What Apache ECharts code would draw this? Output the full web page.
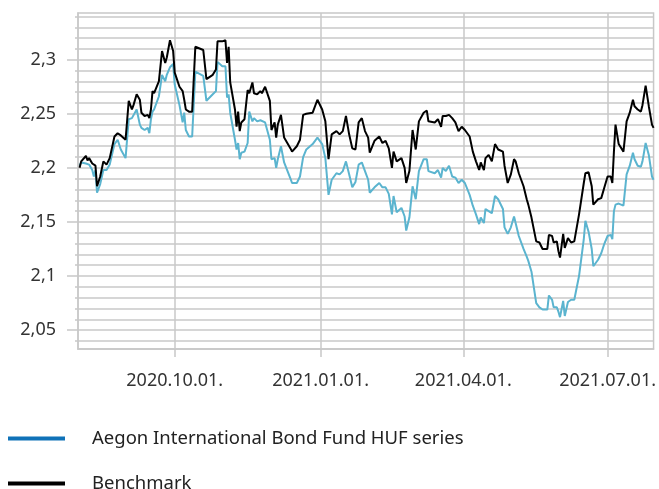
<!DOCTYPE html>
<html>
<head>
<meta charset="utf-8">
<script src="https://cdn.jsdelivr.net/npm/echarts@6/dist/echarts.min.js"></script>
<style>
  html, body { margin: 0; padding: 0; background: #fff; }
  #chart { width: 659px; height: 489px; }
</style>
</head>
<body>
<div id="chart"></div>
<script>
const dates = [
  '2020-08-02','2020-08-03','2020-08-06','2020-08-07','2020-08-08','2020-08-10','2020-08-11','2020-08-12','2020-08-13','2020-08-15','2020-08-17','2020-08-19','2020-08-21','2020-08-24','2020-08-26','2020-08-28','2020-08-31',
  '2020-09-02','2020-09-04','2020-09-05','2020-09-07','2020-09-09','2020-09-10','2020-09-12','2020-09-14','2020-09-15','2020-09-16','2020-09-17','2020-09-18','2020-09-21','2020-09-23','2020-09-25','2020-09-26','2020-09-28','2020-09-30',
  '2020-10-01','2020-10-04','2020-10-06','2020-10-07','2020-10-08','2020-10-10','2020-10-12','2020-10-14','2020-10-19','2020-10-21','2020-10-25','2020-10-27','2020-10-28','2020-10-31',
  '2020-11-02','2020-11-03','2020-11-04','2020-11-05','2020-11-08','2020-11-09','2020-11-10','2020-11-11','2020-11-12','2020-11-14','2020-11-16','2020-11-17','2020-11-19','2020-11-20','2020-11-22','2020-11-24','2020-11-25','2020-11-27','2020-11-30',
  '2020-12-01','2020-12-03','2020-12-04','2020-12-05','2020-12-07','2020-12-09','2020-12-13','2020-12-14','2020-12-17','2020-12-19','2020-12-21','2020-12-23','2020-12-27','2020-12-30',
  '2021-01-02','2021-01-04','2021-01-06','2021-01-08','2021-01-11','2021-01-13','2021-01-15','2021-01-17','2021-01-19','2021-01-21','2021-01-23','2021-01-25','2021-01-27','2021-01-29','2021-01-31',
  '2021-02-01','2021-02-04','2021-02-07','2021-02-09','2021-02-11','2021-02-13','2021-02-15','2021-02-16','2021-02-18','2021-02-21','2021-02-23','2021-02-24','2021-02-26','2021-02-28',
  '2021-03-02','2021-03-04','2021-03-07','2021-03-09','2021-03-10','2021-03-14','2021-03-16','2021-03-18','2021-03-19','2021-03-21','2021-03-23','2021-03-25','2021-03-27','2021-03-29','2021-03-31',
  '2021-04-02','2021-04-05','2021-04-07','2021-04-09','2021-04-11','2021-04-12','2021-04-14','2021-04-15','2021-04-17','2021-04-19','2021-04-21','2021-04-23','2021-04-26','2021-04-27','2021-04-29',
  '2021-05-01','2021-05-03','2021-05-04','2021-05-06','2021-05-09','2021-05-11','2021-05-12','2021-05-14','2021-05-17','2021-05-19','2021-05-21','2021-05-24','2021-05-25','2021-05-27','2021-05-28','2021-05-30','2021-05-31',
  '2021-06-01','2021-06-03','2021-06-04','2021-06-06','2021-06-08','2021-06-10','2021-06-13','2021-06-14','2021-06-16','2021-06-17','2021-06-19','2021-06-21','2021-06-22','2021-06-25','2021-06-27','2021-06-29',
  '2021-07-01','2021-07-03','2021-07-04','2021-07-05','2021-07-06','2021-07-08','2021-07-11','2021-07-13','2021-07-15','2021-07-17','2021-07-18','2021-07-20','2021-07-22','2021-07-23','2021-07-25','2021-07-27','2021-07-29','2021-07-30'
];

// Aegon International Bond Fund HUF series
const fund = [
  2.202,2.205,2.204,2.203,2.203,2.198,2.192,2.198,2.177,2.185,2.198,2.198,2.203,2.222,2.226,2.217,2.209,
  2.245,2.246,2.245,2.254,2.240,2.237,2.235,2.237,2.232,2.245,2.252,2.254,2.266,2.286,2.280,2.286,2.293,2.296,
  2.277,2.258,2.242,2.251,2.235,2.229,2.229,2.289,2.285,2.262,2.268,2.271,2.298,2.294,
  2.294,2.265,2.268,2.251,2.226,2.217,2.223,2.208,2.214,2.215,2.223,2.252,2.243,2.246,2.243,2.244,2.245,2.242,2.226,
  2.208,2.209,2.200,2.208,2.220,2.205,2.190,2.186,2.186,2.192,2.210,2.217,2.222,2.228,
  2.222,2.209,2.175,2.189,2.195,2.194,2.197,2.206,2.194,2.182,2.187,2.203,2.205,2.197,2.189,
  2.177,2.182,2.186,2.182,2.182,2.176,2.157,2.174,2.159,2.163,2.155,2.142,2.154,2.183,
  2.171,2.197,2.208,2.208,2.197,2.195,2.198,2.191,2.200,2.197,2.202,2.192,2.191,2.186,2.189,
  2.186,2.175,2.165,2.157,2.148,2.154,2.149,2.162,2.160,2.158,2.174,2.171,2.162,2.145,2.139,
  2.145,2.155,2.154,2.137,2.125,2.118,2.114,2.104,2.075,2.071,2.069,2.069,2.082,2.078,2.071,2.071,2.067,
  2.062,2.077,2.063,2.076,2.078,2.078,2.100,2.100,2.134,2.151,2.141,2.125,2.109,2.115,2.121,2.130,
  2.137,2.138,2.134,2.160,2.166,2.167,2.165,2.194,2.202,2.214,2.208,2.202,2.201,2.206,2.223,2.212,2.192,2.189
];

const benchmark = [
  2.200,2.206,2.211,2.207,2.209,2.204,2.205,2.202,2.183,2.192,2.206,2.203,2.209,2.229,2.232,2.230,2.226,
  2.262,2.254,2.258,2.268,2.263,2.251,2.248,2.249,2.246,2.254,2.271,2.269,2.280,2.308,2.297,2.302,2.318,2.308,
  2.288,2.275,2.271,2.263,2.254,2.252,2.252,2.312,2.309,2.282,2.286,2.291,2.317,2.317,
  2.318,2.297,2.312,2.279,2.254,2.238,2.252,2.234,2.242,2.245,2.272,2.269,2.279,2.269,2.268,2.271,2.269,2.275,2.262,
  2.235,2.242,2.228,2.240,2.249,2.228,2.218,2.215,2.220,2.226,2.249,2.250,2.251,2.263,
  2.254,2.243,2.208,2.231,2.234,2.231,2.234,2.248,2.231,2.218,2.217,2.242,2.246,2.234,2.228,
  2.214,2.225,2.229,2.223,2.225,2.218,2.200,2.215,2.206,2.209,2.200,2.186,2.197,2.235,
  2.217,2.243,2.251,2.253,2.243,2.242,2.245,2.238,2.248,2.248,2.249,2.246,2.242,2.234,2.238,
  2.235,2.229,2.215,2.206,2.198,2.205,2.198,2.209,2.212,2.206,2.222,2.217,2.215,2.202,2.186,
  2.194,2.208,2.206,2.195,2.183,2.171,2.166,2.154,2.132,2.131,2.125,2.125,2.138,2.137,2.131,2.132,2.123,
  2.117,2.139,2.126,2.135,2.131,2.132,2.157,2.157,2.186,2.195,2.196,2.183,2.166,2.171,2.172,2.182,
  2.192,2.192,2.186,2.215,2.240,2.222,2.215,2.243,2.251,2.263,2.257,2.254,2.252,2.258,2.276,2.257,2.240,2.237
];

const seriesNames = ['Aegon International Bond Fund HUF series', 'Benchmark'];
const xTickDates = ['2020-10-01', '2021-01-01', '2021-04-01', '2021-07-01'];
const yLabelValues = [2.05, 2.1, 2.15, 2.2, 2.25, 2.3];
const yGridValues = [2.04, 2.05, 2.06, 2.07, 2.08, 2.09, 2.1, 2.11, 2.12, 2.13, 2.14, 2.15, 2.16, 2.17, 2.18, 2.19,
  2.2, 2.21, 2.22, 2.23, 2.24, 2.25, 2.26, 2.27, 2.28, 2.29, 2.3, 2.31, 2.32, 2.33, 2.34];

// dates -> timestamps, the x axis is a plain value axis
const toTime = s => {
  const p = s.split('-').map(Number);
  return new Date(p[0], p[1] - 1, p[2]).getTime();
};
const pad = n => (n < 10 ? '0' : '') + n;
const grey = '#c8c8c8';
const font = 'Noto Sans';

// one legend per row, Excel style
const legendRow = (name, color, top) => ({
  left: 8,
  top: top,
  padding: 0,
  itemWidth: 57,
  itemHeight: 4,
  icon: 'rect',
  selectedMode: false,
  textStyle: { fontFamily: font, fontSize: 18.5, color: '#222', padding: [0, 0, 0, 22] },
  data: [{ name: name, itemStyle: { color: color } }]
});

const chart = echarts.init(document.getElementById('chart'));

const option = {
  animation: false,
  grid: { left: 78, right: 1, top: 13, bottom: 140, show: true, borderColor: grey, borderWidth: 1.5 },
  legend: [
    legendRow(seriesNames[0], '#0f72b8', 429),
    legendRow(seriesNames[1], '#000', 474)
  ],
  xAxis: {
    type: 'value',
    min: toTime('2020-08-01'),
    max: toTime('2021-07-30'),
    axisLine: { lineStyle: { color: grey, width: 1.5 } },
    axisTick: { show: true, length: 8, lineStyle: { color: grey, width: 1.5 }, customValues: xTickDates.map(toTime) },
    splitLine: { show: true, lineStyle: { color: grey, width: 1.5 } },
    axisLabel: {
      customValues: xTickDates.map(toTime),
      margin: 23,
      fontFamily: font,
      fontSize: 18,
      color: '#333',
      formatter: v => {
        const d = new Date(v);
        return d.getFullYear() + '.' + pad(d.getMonth() + 1) + '.' + pad(d.getDate()) + '.';
      }
    }
  },
  yAxis: [
    {
      type: 'value',
      min: 2.0325,
      max: 2.3432,
      axisLine: { show: true, lineStyle: { color: grey, width: 1.5 } },
      axisTick: { show: true, length: 3, lineStyle: { color: grey, width: 1.5 }, customValues: yGridValues },
      splitLine: { show: true, lineStyle: { color: grey, width: 1.5 } },
      axisLabel: {
        customValues: yLabelValues,
        margin: 22,
        fontFamily: font,
        fontSize: 18,
        color: '#333',
        formatter: v => String(Math.round(v * 100) / 100).replace('.', ',')
      }
    },
    {
      type: 'value',
      min: 2.0325,
      max: 2.3432,
      position: 'left',
      axisLine: { show: false },
      axisTick: { show: true, length: 11, lineStyle: { color: grey, width: 1.5 }, customValues: yLabelValues },
      splitLine: { show: false },
      axisLabel: { show: false }
    }
  ],
  series: [
    {
      name: seriesNames[0],
      type: 'line',
      data: dates.map((d, i) => [toTime(d), fund[i]]),
      showSymbol: false,
      lineStyle: { color: '#5bb4cf', width: 2 },
      itemStyle: { color: '#5bb4cf' }
    },
    {
      name: seriesNames[1],
      type: 'line',
      data: dates.map((d, i) => [toTime(d), benchmark[i]]),
      showSymbol: false,
      lineStyle: { color: '#000', width: 2 },
      itemStyle: { color: '#000' }
    }
  ]
};

chart.setOption(option);
</script>
</body>
</html>
